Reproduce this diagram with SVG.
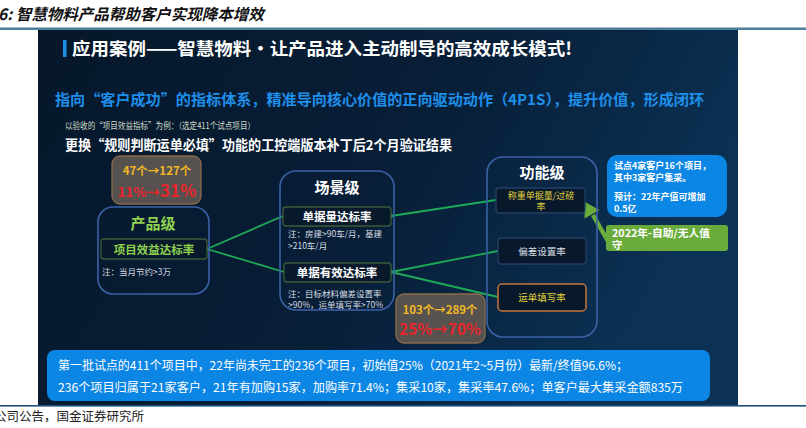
<svg xmlns="http://www.w3.org/2000/svg" width="806" height="428" viewBox="0 0 806 428">
<defs>
<linearGradient id="bg" x1="0" y1="0" x2="1" y2="0.3">
<stop offset="0" stop-color="#06172a"/>
<stop offset="0.6" stop-color="#081f38"/>
<stop offset="1" stop-color="#0b3154"/>
</linearGradient>
<style>
.cjk{font-family:"Noto Sans CJK SC","Noto Sans",sans-serif}
.outer{fill:none;stroke:#3b62a8;stroke-width:1.6}
.inner{fill:#07192b;stroke:#3e5a3a;stroke-width:1.3}
.innerB{fill:#07192b;stroke:#243f66;stroke-width:1.3}
.lvl{font-size:15px;font-weight:bold;fill:#ffffff;text-anchor:middle}
.itm{font-size:11.5px;font-weight:bold;fill:#ffffff;text-anchor:middle}
.note{font-size:8.5px;fill:#d6dbe2}
.stat{fill:#565250;stroke:#8c6a4c;stroke-width:1.3}
.yel{fill:#f2b823;font-weight:bold;text-anchor:middle}
.red{fill:#e8252a;font-weight:bold;text-anchor:middle}
.conn{stroke:#1faa58;stroke-width:1.8;fill:none}
.call{font-size:9px;font-weight:bold;fill:#ffffff}
</style>
</defs>

<!-- page frame -->
<rect x="0" y="0" width="806" height="428" fill="#ffffff"/>
<text class="cjk" x="-2" y="20" font-size="15.5" font-weight="bold" font-style="italic" fill="#111">6: 智慧物料产品帮助客户实现降本增效</text>
<rect x="0" y="27.5" width="806" height="2.5" fill="#4e7f98"/>

<!-- dark panel -->
<rect x="38" y="30" width="700" height="375" fill="url(#bg)"/>
<rect x="0" y="405" width="806" height="1.6" fill="#1f4f7c"/>
<text class="cjk" x="-6" y="421" font-size="12.5" fill="#222">公司公告，国金证券研究所</text>

<!-- headings -->
<rect x="63" y="40" width="3.5" height="17" fill="#1a8fe8"/>
<text class="cjk" x="72" y="55" font-size="17.5" font-weight="bold" fill="#ffffff" textLength="500" lengthAdjust="spacingAndGlyphs">应用案例——智慧物料·让产品进入主动制导的高效成长模式!</text>
<text class="cjk" x="55" y="105" font-size="15" font-weight="bold" fill="#1e8fea" textLength="649" lengthAdjust="spacingAndGlyphs">指向“客户成功”的指标体系，精准导向核心价值的正向驱动动作（4P1S），提升价值，形成闭环</text>
<text class="cjk" x="65" y="129" font-size="8.8" fill="#d4dccb" textLength="190" lengthAdjust="spacingAndGlyphs">以验收的“项目效益指标”为例：（选定411个试点项目）</text>
<text class="cjk" x="65" y="150" font-size="13.5" font-weight="bold" fill="#ffffff" textLength="387" lengthAdjust="spacingAndGlyphs">更换“规则判断运单必填”功能的工控端版本补丁后2个月验证结果</text>

<!-- connectors -->
<g id="connectors">
<line class="conn" x1="207" y1="249" x2="283" y2="216"/>
<line class="conn" x1="207" y1="249" x2="284" y2="272"/>
<line class="conn" x1="391" y1="216" x2="496" y2="200"/>
<line class="conn" x1="391" y1="272" x2="498" y2="251"/>
<line class="conn" x1="391" y1="272" x2="498" y2="297"/>
<circle cx="207" cy="249" r="2" fill="#1faa58"/>
<circle cx="391" cy="216" r="2" fill="#1faa58"/>
<circle cx="391" cy="272" r="2" fill="#1faa58"/>
<line x1="609" y1="243" x2="593" y2="215" stroke="#6aac3c" stroke-width="4.5"/>
<polygon points="585,202 599.5,210 584.5,218.5" fill="#6aac3c"/>
</g>

<!-- stat box 1 -->
<g id="stat1" class="cjk">
<rect class="stat" x="112" y="156" width="89" height="48" rx="8"/>
<text class="yel" x="157" y="175" font-size="11.5">47个→127个</text>
<text class="red" x="157" y="197"><tspan font-size="13.5">11%→</tspan><tspan font-size="17">31%</tspan></text>
</g>

<!-- product level -->
<g id="product" class="cjk">
<rect class="outer" x="98" y="207" width="111" height="87" rx="15"/>
<text class="lvl" x="153" y="229" style="fill:#8fd14f">产品级</text>
<rect class="inner" x="101" y="239" width="106" height="20" rx="3"/>
<text class="itm" x="154" y="253.5" style="fill:#8fd14f">项目效益达标率</text>
<text class="note" x="102" y="275">注：当月节约&gt;3万</text>
</g>

<!-- scene level -->
<g id="scene" class="cjk">
<rect class="outer" x="280" y="171" width="114" height="139" rx="16"/>
<text class="lvl" x="337" y="193">场景级</text>
<rect class="inner" x="283" y="207" width="108" height="19" rx="3"/>
<text class="itm" x="337" y="221">单据量达标率</text>
<text class="note" x="288" y="237">注：房建&gt;90车/月，基建</text>
<text class="note" x="288" y="249">&gt;210车/月</text>
<rect class="inner" x="284" y="263" width="107" height="19" rx="3"/>
<text class="itm" x="337" y="277">单据有效达标率</text>
<text class="note" x="288" y="297">注：目标材料偏差设置率</text>
<text class="note" x="288" y="308">&gt;90%，运单填写率&gt;70%</text>
</g>

<!-- stat box 2 -->
<g id="stat2" class="cjk">
<rect class="stat" x="396" y="294" width="89" height="49" rx="8"/>
<text class="yel" x="440" y="313.5" font-size="11.5">103个→289个</text>
<text class="red" x="440" y="335" font-size="15.5">25%→70%</text>
</g>

<!-- function level -->
<g id="function" class="cjk">
<rect class="outer" x="487" y="157" width="110" height="180" rx="16"/>
<text class="lvl" x="542" y="178">功能级</text>
<rect class="innerB" x="496" y="188" width="89" height="25" rx="3"/>
<text x="541" y="198.5" font-size="9" fill="#e3d23c" text-anchor="middle">称重单据量/过磅</text>
<text x="541" y="209.5" font-size="9" fill="#e3d23c" text-anchor="middle">率</text>
<rect class="innerB" x="498" y="238" width="88" height="26" rx="3"/>
<text x="542" y="255" font-size="9.5" fill="#d8dde4" text-anchor="middle">偏差设置率</text>
<rect x="498" y="284" width="88" height="27" rx="4" fill="#07192b" stroke="#c8743a" stroke-width="1.5"/>
<text x="542" y="301" font-size="9.5" fill="#e3d23c" text-anchor="middle">运单填写率</text>
</g>

<!-- callout blue -->
<g id="pilot" class="cjk">
<rect x="607" y="155" width="120" height="62" rx="10" fill="#0c86e4"/>
<text class="call" x="614" y="169">试点4家客户16个项目，</text>
<text class="call" x="614" y="180.5">其中3家客户集采。</text>
<text class="call" x="614" y="200">预计：22年产值可增加</text>
<text class="call" x="614" y="211.5">0.5亿</text>
</g>

<!-- callout green -->
<g id="goal" class="cjk">
<rect x="606" y="225" width="122" height="26" rx="3" fill="#6aac3c"/>
<text x="612" y="236.5" font-size="10.5" font-weight="bold" fill="#ffffff" textLength="98" lengthAdjust="spacingAndGlyphs">2022年-自助/无人值</text>
<text x="612" y="248.5" font-size="10.5" font-weight="bold" fill="#ffffff">守</text>
</g>

<!-- summary -->
<g id="summary" class="cjk">
<rect x="47" y="350" width="663" height="51" rx="8" fill="#0c86e4"/>
<text x="58" y="370" font-size="12" fill="#ffffff" textLength="570" lengthAdjust="spacingAndGlyphs">第一批试点的411个项目中，22年尚未完工的236个项目，初始值25%（2021年2~5月份）最新/终值96.6%；</text>
<text x="58" y="392" font-size="12" fill="#ffffff" textLength="625" lengthAdjust="spacingAndGlyphs">236个项目归属于21家客户，21年有加购15家，加购率71.4%；集采10家，集采率47.6%；单客户最大集采金额835万</text>
</g>
</svg>
